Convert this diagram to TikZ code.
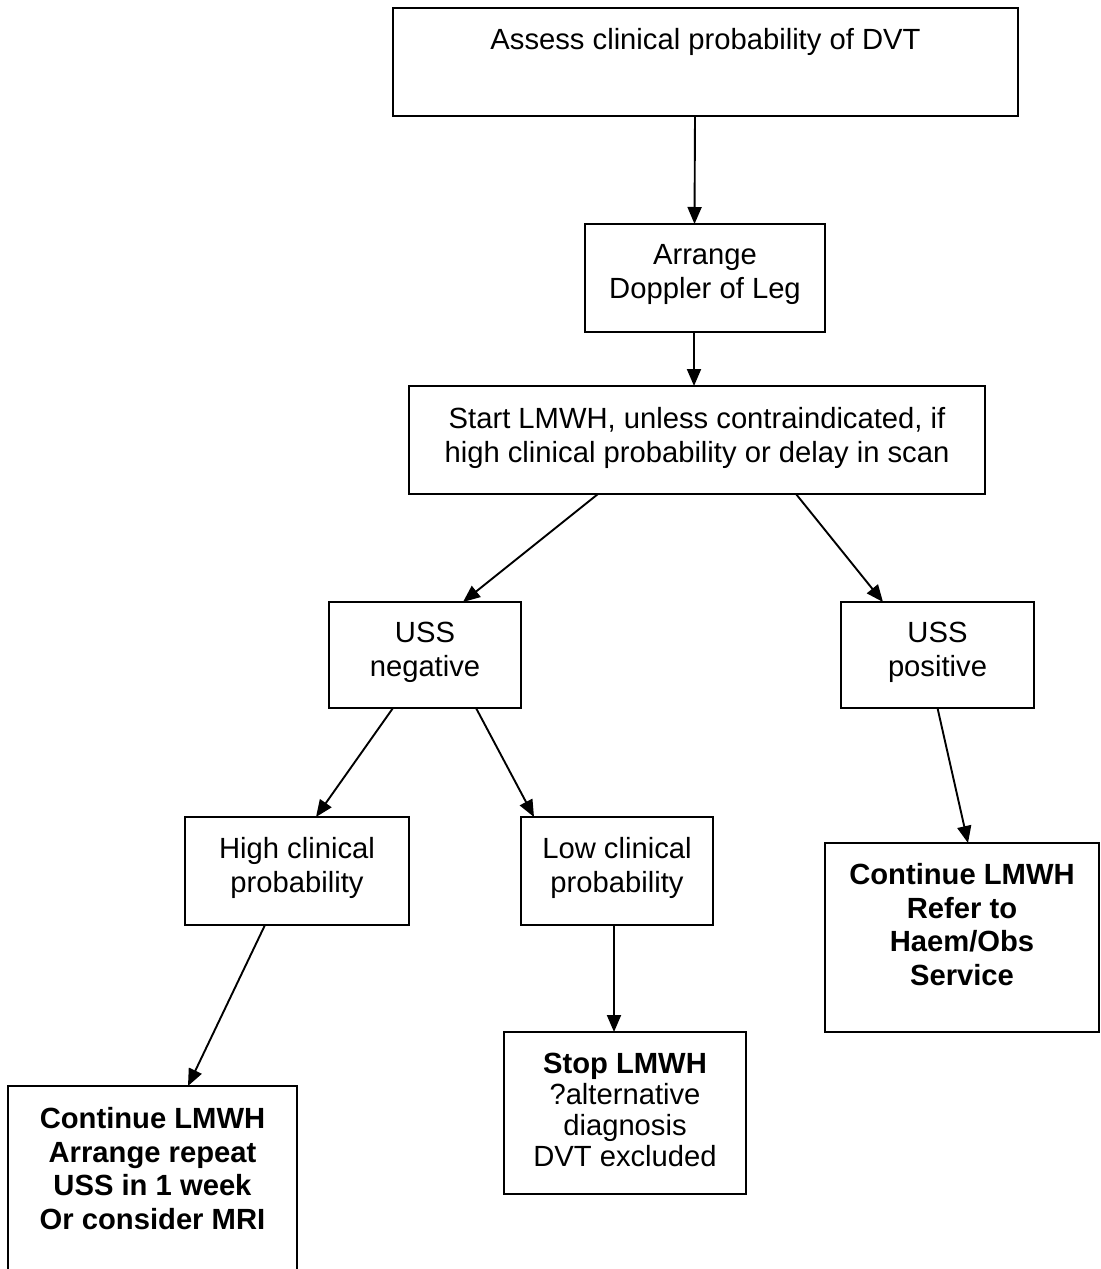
\documentclass[tikz,border=0pt]{standalone}
\usepackage{fontspec}
\setmainfont{Liberation Sans}
\usetikzlibrary{arrows.meta}
\begin{document}
\begin{tikzpicture}[x=0.5pt,y=-0.5pt,
  box/.style={draw, line width=1pt, inner sep=0pt, outer sep=0pt},
  txt/.style={anchor=north, align=center, inner sep=0pt, font=\fontsize{14.6pt}{17pt}\selectfont},
  txtI/.style={anchor=north, align=center, inner sep=0pt, font=\fontsize{14.6pt}{15.5pt}\selectfont},
  arr/.style={line width=0.95pt, -{Triangle[length=8.5pt,width=7pt]}}]
\useasboundingbox (0,0) rectangle (1101,1269);
\clip (0,0) rectangle (1101,1269);
\fill[white] (0,0) rectangle (1101,1269);
% boxes
\node[box, minimum width=312.5pt, minimum height=54pt] (A) at (705.5,62) {};
\node[box, minimum width=120pt, minimum height=54pt] (B) at (705,278) {};
\node[box, minimum width=288pt, minimum height=54pt] (C) at (697,440) {};
\node[box, minimum width=96pt, minimum height=53pt] (D) at (425,655) {};
\node[box, minimum width=96.5pt, minimum height=53pt] (E) at (937.5,655) {};
\node[box, minimum width=112pt, minimum height=54pt] (F) at (297,871) {};
\node[box, minimum width=96pt, minimum height=54pt] (G) at (617,871) {};
\node[box, minimum width=121pt, minimum height=81pt] (I) at (625,1113) {};
\node[box, minimum width=137pt, minimum height=94.5pt] (J) at (962,937.5) {};
\node[box, minimum width=144.5pt, minimum height=102pt] (H) at (152.5,1188) {};
% texts
\node[txt] (At) at ([yshift=-10pt]A.north) {Assess clinical probability of DVT};
\node[txt] (Bt) at ([yshift=-10pt]B.north) {Arrange\\Doppler of Leg};
\node[txt] (Ct) at ([yshift=-10.5pt]C.north) {Start LMWH, unless contraindicated, if\\high clinical probability or delay in scan};
\node[txt] (Dt) at ([yshift=-10pt]D.north) {USS\\negative};
\node[txt] (Et) at ([yshift=-10pt]E.north) {USS\\positive};
\node[txt] (Ft) at ([yshift=-10pt]F.north) {High clinical\\probability};
\node[txt] (Gt) at ([yshift=-10pt]G.north) {Low clinical\\probability};
\node[txtI] (It) at ([yshift=-10.5pt]I.north) {\textbf{Stop LMWH}\\?alternative\\diagnosis\\DVT excluded};
\node[txt, font=\bfseries\fontsize{14.6pt}{16.8pt}\selectfont] (Jt) at ([yshift=-10pt]J.north) {Continue LMWH\\Refer to\\Haem/Obs\\Service};
\node[txt, font=\bfseries\fontsize{14.6pt}{16.8pt}\selectfont] (Ht) at ([yshift=-10.5pt]H.north) {Continue LMWH\\Arrange repeat\\USS in 1 week\\Or consider MRI};
% connectors
\draw[arr] ([xshift=-5.25pt]A.south) -- ([xshift=-5.25pt]B.north);
\draw[arr] ([xshift=-5.5pt]B.south) -- ([xshift=-1.5pt]C.north);
\draw[arr] ([xshift=-49.5pt]C.south) -- ([xshift=19pt]D.north);
\draw[arr] ([xshift=49.5pt]C.south) -- ([xshift=-27.25pt]E.north);
\draw[arr] ([xshift=-16pt]D.south) -- ([xshift=9.5pt]F.north);
\draw[arr] ([xshift=25.5pt]D.south) -- ([xshift=-41.5pt]G.north);
\draw[arr] ([xshift=-16pt]F.south) -- ([xshift=17.75pt]H.north);
\draw[arr] ([xshift=-1.5pt]G.south) -- ([xshift=-5.5pt]I.north);
\draw[arr] (E.south) -- ([xshift=3pt]J.north);
\end{tikzpicture}
\end{document}
